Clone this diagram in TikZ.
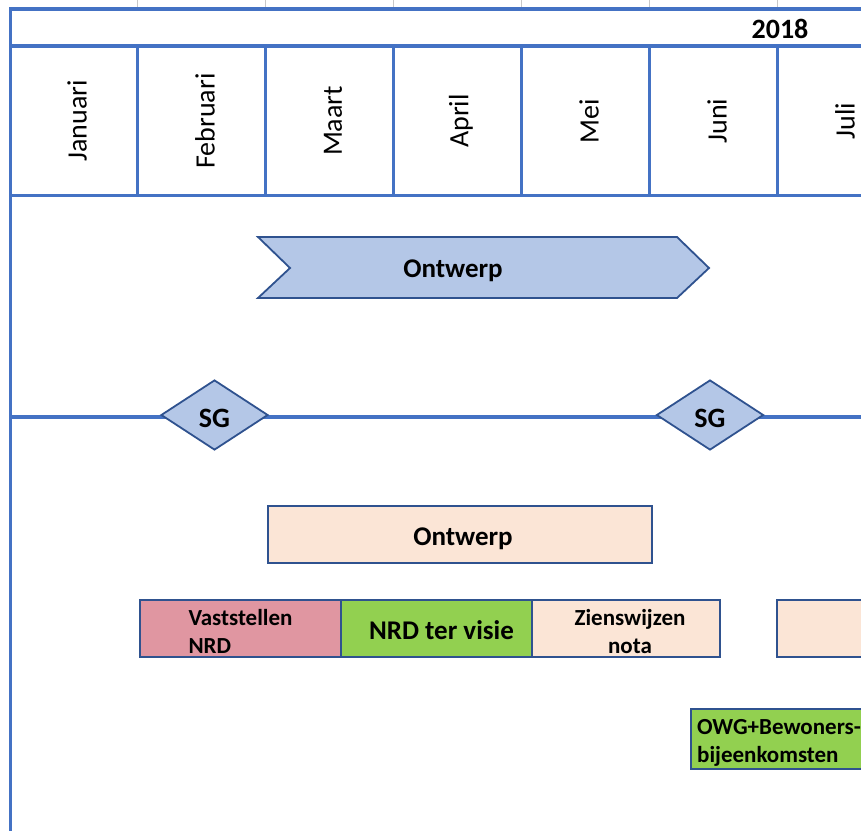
\documentclass[tikz,border=0pt]{standalone}
\usepackage{fontspec}
\setmainfont{Carlito}
\usetikzlibrary{shapes.geometric}
\definecolor{lineblue}{RGB}{68,114,196}
\definecolor{edgeblue}{RGB}{47,82,143}
\definecolor{chevfill}{RGB}{180,199,231}
\definecolor{peach}{RGB}{251,229,214}
\definecolor{nrdgreen}{RGB}{146,208,80}
\definecolor{nrdpink}{RGB}{224,150,161}
\definecolor{tickgrey}{RGB}{200,200,200}
\tikzset{
  blueline/.style={draw=lineblue, line width=3.5pt},
  tickline/.style={draw=tickgrey, line width=1.2pt},
  month/.style={rotate=90, font=\fontsize{28}{32}\selectfont, inner sep=0pt},
  bar/.style={draw=edgeblue, line width=1.8pt, rectangle, inner sep=0pt},
  bartext/.style={inner sep=0pt, font=\bfseries\fontsize{23}{28}\selectfont},
  sgdiamond/.style={shape=diamond, draw=edgeblue, line width=1.8pt, fill=chevfill, minimum width=107pt, minimum height=70pt, inner sep=0pt},
  bigtext/.style={font=\bfseries\fontsize{27}{32}\selectfont, inner sep=0pt},
  sgtext/.style={font=\bfseries\fontsize{28}{32}\selectfont, inner sep=0pt}
}
\begin{document}
\begin{tikzpicture}[x=1pt,y=-1pt]
\useasboundingbox (0,0) rectangle (861,830);
\clip (0,0) rectangle (861,830);
% grid
\foreach \xx in {137.5,265.5,393.5,521.5,649.5,777.5} {
  \draw[tickline] (\xx,0) -- (\xx,7);
  \draw[blueline] (\xx,46) -- (\xx,195.5);
}
\draw[blueline] (880,9) -- (10.5,9) -- (10.5,840);
\draw[blueline] (10.5,46) -- (880,46);
\draw[blueline] (10.5,195.5) -- (880,195.5);
\node[font=\bfseries\fontsize{28}{32}\selectfont, inner sep=0pt] (year) at (780,29) {2018};
% months
\node[month] (jan) at (77,121) {Januari};
\node[month] (feb) at (205,121) {Februari};
\node[month] (mrt) at (333,121) {Maart};
\node[month] (apr) at (461,121) {April};
\node[month] (mei) at (589,121) {Mei};
\node[month] (jun) at (717,121) {Juni};
\node[month] (jul) at (845,121) {Juli};
% chevron
\draw[draw=edgeblue, line width=1.8pt, fill=chevfill, line join=miter]
  (258,237) -- (677,237) -- (709,268) -- (677,298) -- (258,298) -- (290,268) -- cycle;
\node[bigtext] (ontchev) at (453,271) {Ontwerp};
% SG line
\draw[blueline] (10.5,417) -- (880,417);
\node[sgdiamond] (sg1) at (214.5,415) {};
\node[sgtext] (sg1t) at ([yshift=-3pt]sg1.center) {SG};
\node[sgdiamond] (sg2) at (710,415) {};
\node[sgtext] (sg2t) at ([yshift=-3pt]sg2.center) {SG};
% bars
\node[bar, fill=peach, minimum width=384pt, minimum height=57pt] (ontbox) at (460,534.5) {};
\node[bigtext] (ontboxt) at ([xshift=3pt,yshift=-4pt]ontbox.center) {Ontwerp};
\node[bar, fill=nrdpink, minimum width=201pt, minimum height=57pt] (vast) at (240.5,628.5) {};
\node[bartext, align=left] (vastt) at ([yshift=-3pt]vast.center) {Vaststellen\\NRD};
\node[bar, fill=nrdgreen, minimum width=191pt, minimum height=57pt] (visie) at (436.5,628.5) {};
\node[bigtext] (visiet) at ([xshift=5pt,yshift=-2pt]visie.center) {NRD ter visie};
\node[bar, fill=peach, minimum width=188pt, minimum height=57pt] (zien) at (626,628.5) {};
\node[bartext, align=center] (zient) at ([xshift=4pt,yshift=-3pt]zien.center) {Zienswijzen\\nota};
\node[bar, fill=peach, minimum width=200pt, minimum height=57pt] (next) at (877,628.5) {};
\node[bar, fill=nrdgreen, minimum width=220pt, minimum height=60pt, anchor=west] (owg) at (690,739) {};
\node[bartext, align=left, anchor=west] (owgt) at ([xshift=7pt,yshift=-4pt]owg.west) {OWG+Bewoners-\\bijeenkomsten};
\end{tikzpicture}
\end{document}
